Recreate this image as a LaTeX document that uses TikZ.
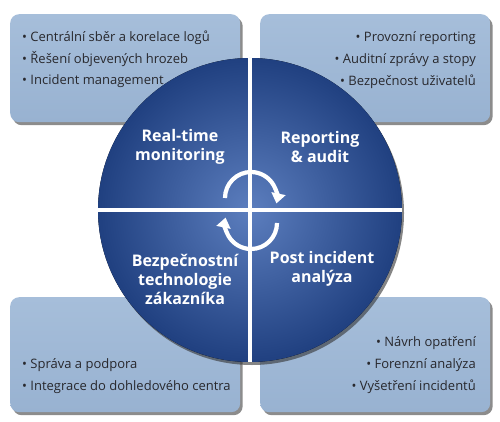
\documentclass[tikz,border=0pt]{standalone}
\usepackage{fontspec}
\setmainfont{Open Sans}
\usetikzlibrary{shadows,arrows.meta}
\definecolor{boxfill}{RGB}{152,178,209}
\definecolor{boxtop}{RGB}{166,190,218}
\definecolor{circin}{RGB}{92,126,190}
\definecolor{circout}{RGB}{32,64,128}
\definecolor{txt}{RGB}{40,40,45}
\tikzset{
  infobox/.style={draw=none, rounded corners=9pt, top color=boxtop, bottom color=boxfill,
    drop shadow={shadow xshift=2.5pt, shadow yshift=-3pt, opacity=0.6, fill=black!75}},
  bul/.style={font=\fontsize{13}{15}\selectfont, text=txt, inner sep=0pt},
  quad/.style={font=\fontsize{16}{19}\selectfont\bfseries, text=white, align=center, inner sep=0pt},
  cyc/.style={draw=white, line width=4.2pt, -{Triangle[width=14pt,length=10pt]}}
}
\begin{document}
\begin{tikzpicture}[x=1pt,y=1pt]
\useasboundingbox (0,0) rectangle (500,421);
% boxes
\node[infobox, minimum width=230pt, minimum height=108pt, anchor=north west] (tl) at (10,407) {};
\node[infobox, minimum width=230pt, minimum height=108pt, anchor=north west] (tr) at (260,407) {};
\node[infobox, minimum width=230pt, minimum height=115pt, anchor=north west] (bl) at (10,124) {};
\node[infobox, minimum width=230pt, minimum height=115pt, anchor=north west] (br) at (260,124) {};
% bullet texts
\node[bul, anchor=base west] (t1) at (22,379) {• Centrální sběr a korelace logů};
\node[bul, anchor=base west] (t2) at (22,357) {• Řešení objevených hrozeb};
\node[bul, anchor=base west] (t3) at (22,336) {• Incident management};
\node[bul, anchor=base east] (r1) at (476,379) {• Provozní reporting};
\node[bul, anchor=base east] (r2) at (476,357) {• Auditní zprávy a stopy};
\node[bul, anchor=base east] (r3) at (476,335) {• Bezpečnost uživatelů};
\node[bul, anchor=base west] (b1) at (22,53) {• Správa a podpora};
\node[bul, anchor=base west] (b2) at (22,31) {• Integrace do dohledového centra};
\node[bul, anchor=base east] (s1) at (476,75) {• Návrh opatření};
\node[bul, anchor=base east] (s2) at (476,53) {• Forenzní analýza};
\node[bul, anchor=base east] (s3) at (476,31) {• Vyšetření incidentů};
% circle
\coordinate (c) at (250,211);
\fill[inner color=circin, outer color=circout,
  drop shadow={shadow xshift=2pt, shadow yshift=-3pt, opacity=0.6, fill=black!80}] (c) circle[radius=152];
\begin{scope}
\clip (c) circle[radius=152];
\draw[white, line width=4.5pt] ([xshift=-160pt]c) -- ([xshift=160pt]c);
\draw[white, line width=4.5pt] ([yshift=-160pt]c) -- ([yshift=160pt]c);
\end{scope}
% quadrant labels
\node[quad] (q1) at (180,274) {Real-time\\monitoring};
\node[quad] (q2) at (320,274) {Reporting\\\& audit};
\node[quad] (q3) at (185,142) {Bezpečnostní\\technologie\\zákazníka};
\node[quad] (q4) at (322,152) {Post incident\\analýza};
% cycle arrows
\coordinate (a1) at (225,223);
\coordinate (a2) at (277,198);
\draw[cyc] (a1) arc[start angle=180, end angle=-12, radius=26];
\draw[cyc] (a2) arc[start angle=0, end angle=-192, radius=26];
\end{tikzpicture}
\end{document}
